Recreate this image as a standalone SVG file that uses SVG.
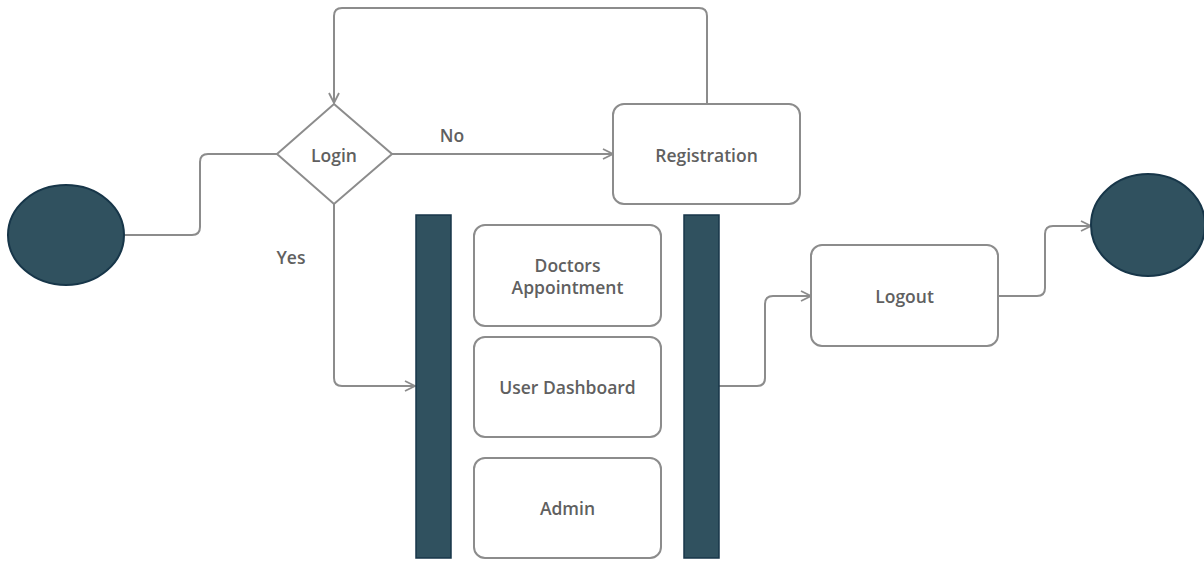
<svg xmlns="http://www.w3.org/2000/svg" width="1204" height="561" viewBox="0 0 1204 561">
  <style>
    .lbl { font-family: "Open Sans", "Liberation Sans", sans-serif; font-size: 17.5px; font-weight: 600; fill: #606060; text-anchor: middle; }
    .box { fill: #ffffff; stroke: #8c8c8c; stroke-width: 2; }
    .term { fill: #30515f; stroke: #173649; stroke-width: 2; }
    .bar { fill: #30515f; stroke: #173649; stroke-width: 1.5; }
    .edge { fill: none; stroke: #8c8c8c; stroke-width: 2; stroke-linejoin: round; }
  </style>
  <defs>
    <marker id="arrow" viewBox="0 0 12 12" refX="11" refY="6" markerWidth="12" markerHeight="12" markerUnits="userSpaceOnUse" orient="auto">
      <path d="M1,1 L11,6 L1,11" fill="none" stroke="#8c8c8c" stroke-width="1.8"/>
    </marker>
  </defs>
  <rect width="1204" height="561" fill="#ffffff"/>

  <!-- connectors -->
  <g id="connectors">
    <path class="edge" d="M125,235 H192 Q200,235 200,227 V162 Q200,154 208,154 H277"/>
    <path class="edge" d="M392,154 H613" marker-end="url(#arrow)"/>
    <path class="edge" d="M707,104 V16 Q707,8 699,8 H342 Q334,8 334,16 V103" marker-end="url(#arrow)"/>
    <path class="edge" d="M334,204 V378 Q334,386 342,386 H415" marker-end="url(#arrow)"/>
    <path class="edge" d="M719,386 H757 Q765,386 765,378 V304 Q765,296 773,296 H811" marker-end="url(#arrow)"/>
    <path class="edge" d="M998,296 H1037 Q1045,296 1045,288 V234 Q1045,226 1053,226 H1091" marker-end="url(#arrow)"/>
    <text class="lbl" x="452" y="142">No</text>
    <text class="lbl" x="291" y="264">Yes</text>
  </g>

  <g id="start">
    <ellipse class="term" cx="66" cy="235" rx="58" ry="50"/>
  </g>

  <g id="login">
    <polygon class="box" points="334,104 392,154 334,204 277,154"/>
    <text class="lbl" x="334" y="161.5">Login</text>
  </g>

  <g id="registration">
    <rect class="box" x="613" y="104" width="187" height="100" rx="11"/>
    <text class="lbl" x="706.5" y="161.5">Registration</text>
  </g>

  <g id="fork">
    <rect class="bar" x="416" y="215" width="35" height="343"/>
  </g>

  <g id="doctors-appointment">
    <rect class="box" x="474" y="225" width="187" height="101" rx="11"/>
    <text class="lbl" x="567.5" y="272">Doctors</text>
    <text class="lbl" x="567.5" y="294">Appointment</text>
  </g>

  <g id="user-dashboard">
    <rect class="box" x="474" y="337" width="187" height="100" rx="11"/>
    <text class="lbl" x="567.5" y="394">User Dashboard</text>
  </g>

  <g id="admin">
    <rect class="box" x="474" y="458" width="187" height="100" rx="11"/>
    <text class="lbl" x="567.5" y="515">Admin</text>
  </g>

  <g id="join">
    <rect class="bar" x="684" y="215" width="35" height="343"/>
  </g>

  <g id="logout">
    <rect class="box" x="811" y="245" width="187" height="101" rx="11"/>
    <text class="lbl" x="904.5" y="303">Logout</text>
  </g>

  <g id="end">
    <ellipse class="term" cx="1148" cy="225" rx="57" ry="51"/>
  </g>
</svg>
